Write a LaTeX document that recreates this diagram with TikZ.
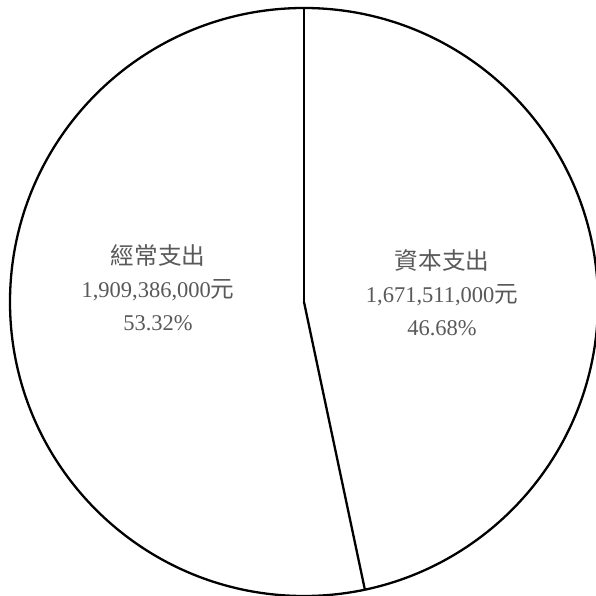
\documentclass[tikz,border=0pt]{standalone}
\usepackage{fontspec}
\setmainfont{Liberation Serif}
\newfontfamily\cjk{Noto Sans CJK TC}[Scale=1.05]
\usepackage{tikz}

\definecolor{labelgray}{HTML}{595959}

\begin{document}
\begin{tikzpicture}[x=1pt,y=-1pt,
    slice/.style={line width=2.3pt, color=black},
    pielabel/.style={align=center, text=labelgray, inner sep=0pt,
      font=\fontsize{22.5}{33}\selectfont}]
    \useasboundingbox (0,0) rectangle (595,596);
    \coordinate (c) at (304,302);
    \draw[slice, fill=white] (c) circle[radius=294];
    \draw[slice] (c) -- (304,8);
    \draw[slice] (c) -- ++(78.05:294);
    \node[pielabel] (rec) at (158,288) {{\cjk 經常支出}\\1,909,386,000{\cjk 元}\\53.32\%};
    \node[pielabel] (cap) at (442,293) {{\cjk 資本支出}\\1,671,511,000{\cjk 元}\\46.68\%};
  \end{tikzpicture}
\end{document}
